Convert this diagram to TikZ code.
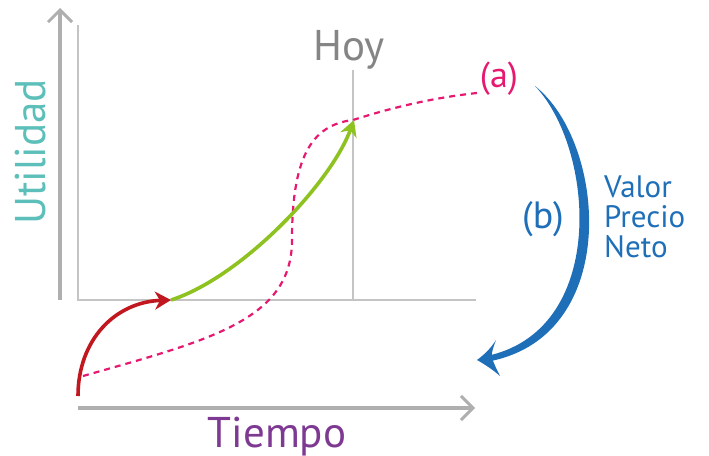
\documentclass[tikz,border=0pt]{standalone}
\usepackage{fontspec}
\setmainfont{PT Sans}
\usetikzlibrary{arrows.meta}
\definecolor{axisgray}{HTML}{AFAFAF}
\definecolor{framegray}{HTML}{C4C4C4}
\definecolor{hoygray}{HTML}{858585}
\definecolor{utilteal}{HTML}{5CBFB9}
\definecolor{tiempopurple}{HTML}{7E3A92}
\definecolor{curvepink}{HTML}{E6186F}
\definecolor{curvered}{HTML}{C1171F}
\definecolor{curvegreen}{HTML}{8DC220}
\definecolor{arcblue}{HTML}{1F6FB8}
\tikzset{
  axisline/.style={draw=axisgray, line width=4pt, -{Straight Barb[length=12pt,width=24pt,line width=3pt]}},
  frameline/.style={draw=framegray, line width=1.4pt},
  dashpink/.style={draw=curvepink, line width=2.2pt, dash pattern=on 6pt off 5pt},
  lbl/.style={inner sep=0pt, outer sep=0pt, anchor=base},
}
\begin{document}
\begin{tikzpicture}[x=1pt,y=-1pt]
\useasboundingbox (0,0) rectangle (709,455);
% axes
\coordinate (yb) at (60,300);
\coordinate (yt) at (60,8);
\coordinate (xl) at (78,408);
\coordinate (xr) at (475,408);
\draw[axisline] (yb) -- (yt);
\draw[axisline] (xl) -- (xr);
% inner frame
\coordinate (ftop) at (78,25);
\coordinate (fo) at (78,300);
\coordinate (fr) at (476,300);
\draw[frameline] (ftop) -- (fo) -- (fr);
% Hoy line
\coordinate (hoyt) at (353,70);
\coordinate (hoyb) at (353,300);
\draw[frameline] (hoyt) -- (hoyb);
% labels
\node[lbl, text=hoygray, font=\fontsize{43}{43}\selectfont] (hoy) at (349,60) {Hoy};
\node[lbl, text=tiempopurple, font=\fontsize{43}{43}\selectfont] (tiempo) at (277,447) {Tiempo};
\node[lbl, text=utilteal, font=\fontsize{43}{43}\selectfont, rotate=90] (util) at (45,152) {Utilidad};
\node[lbl, text=curvepink, font=\fontsize{36}{36}\selectfont] (a) at (499,87) {(a)};
\node[lbl, text=arcblue, font=\fontsize{38}{38}\selectfont] (b) at (543,228) {(b)};
\node[inner sep=0pt, anchor=base west, text=arcblue, font=\fontsize{31}{30}\selectfont, align=left] (vpn) at (604,257) {Valor\\Precio\\Neto};
% pink dashed curve
\coordinate (p0) at (83,376);
\coordinate (p1) at (292,240);
\coordinate (p2) at (353,120);
\coordinate (p3) at (477,93);
\draw[dashpink] (p0) .. controls (210,340) and (292,320) .. (p1)
  .. controls (292,160) and (310,125) .. (p2)
  .. controls (400,105) and (440,97) .. (p3);
% red curve
\coordinate (r0) at (78,396);
\coordinate (r1) at (171,300);
\draw[curvered, line width=3.6pt, -{Stealth[length=16pt,width=18pt,inset=5pt]}] (r0) .. controls (78,340) and (115,302) .. (r1);
% green curve
\coordinate (g1) at (354,120);
\draw[curvegreen, line width=3.6pt, -{Stealth[length=16pt,width=17pt,inset=5pt]}] (r1) .. controls (240,278) and (330,185) .. (g1);
% blue tapered arc
\coordinate (bs) at (535,86);
\coordinate (bt) at (477,360);
\fill[arcblue] (bs) .. controls (606,142) and (622,334) .. (491,361)
  -- (491,355) .. controls (608,326) and (594,148) .. (bs) -- cycle;
\fill[arcblue] (bt) .. controls (485,354) and (491,348) .. (496,340)
  .. controls (493,348) and (491,354) .. (492,358)
  .. controls (494,364) and (497,370) .. (500,376)
  .. controls (492,369) and (484,364) .. (bt) -- cycle;
\end{tikzpicture}
\end{document}
